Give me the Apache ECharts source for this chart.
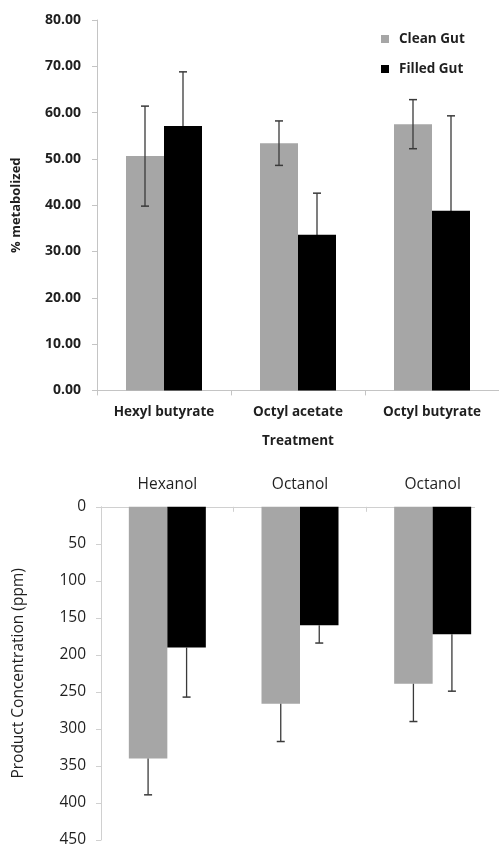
<!DOCTYPE html>
<html>
<head>
<meta charset="utf-8">
<script src="https://cdn.jsdelivr.net/npm/echarts@6/dist/echarts.min.js"></script>
<style>
html,body{margin:0;padding:0;background:#fff;}
#chart{width:499px;height:848px;}
</style>
</head>
<body>
<div id="chart"></div>
<script>
// ---- data ----
const topCategories = ['Hexyl butyrate', 'Octyl acetate', 'Octyl butyrate'];
const topClean = [50.6, 53.4, 57.5];
const topCleanErr = [10.8, 4.8, 5.3];
const topFilled = [57.1, 33.6, 38.8];
const topFilledErr = [11.7, 9.0, 20.5];
const topTicks = { min: 0, max: 80, interval: 10 };

const botCategories = ['Hexanol', 'Octanol', 'Octanol'];
const botClean = [340, 266, 239];
const botCleanErr = [49, 51, 51];
const botFilled = [190, 160, 172];
const botFilledErr = [67, 24, 77];
const botTicks = { min: 0, max: 450, interval: 50 };

const seriesNames = ['Clean Gut', 'Filled Gut'];

// ---- styles ----
const GRAY = '#a6a6a6';
const BLACK = '#000000';
const ERR = '#3a3a3a';
const TXT = '#1f1f1f';
const FONT = '"Open Sans", "Liberation Sans", sans-serif';
const BARW_TOP = 38;
const BARW_BOT = 38.5;

function errData(vals, errs) {
  return vals.map((v, i) => [i, v, errs[i]]);
}
function errRenderer(offset, dir) {
  return function (params, api) {
    const i = api.value(0), v = api.value(1), e = api.value(2);
    const p0 = api.coord([i, v]);
    const pHi = api.coord([i, v + e]);
    const pLo = api.coord([i, v - e]);
    const x = p0[0] + offset;
    const cap = 4;
    const children = [];
    const yA = pHi[1];
    const yB = dir === 'both' ? pLo[1] : p0[1];
    children.push({ type: 'line', shape: { x1: x, y1: yA, x2: x, y2: yB }, style: { stroke: ERR, lineWidth: 1.3 } });
    children.push({ type: 'line', shape: { x1: x - cap, y1: yA, x2: x + cap, y2: yA }, style: { stroke: ERR, lineWidth: 1.5 } });
    if (dir === 'both') {
      children.push({ type: 'line', shape: { x1: x - cap, y1: yB, x2: x + cap, y2: yB }, style: { stroke: ERR, lineWidth: 1.5 } });
    }
    return { type: 'group', children: children };
  };
}

const chart = echarts.init(document.getElementById('chart'), null, { renderer: 'canvas' });

const option = {
  animation: false,
  backgroundColor: '#ffffff',
  legend: {
    data: seriesNames,
    orient: 'vertical',
    left: 376,
    top: 26,
    itemWidth: 8,
    itemHeight: 8,
    itemGap: 14,
    icon: 'rect',
    textStyle: { fontFamily: FONT, fontWeight: 'bold', fontSize: 13.5, color: TXT, lineHeight: 16, padding: [0, 0, 0, 5] }
  },
  grid: [
    { left: 97, top: 20, width: 404, height: 370.4, containLabel: false },
    { left: 101, top: 506.8, width: 412, height: 333.2, containLabel: false }
  ],
  xAxis: [
    {
      gridIndex: 0, type: 'category', data: topCategories,
      name: 'Treatment', nameLocation: 'middle', nameGap: 44,
      nameTextStyle: { fontFamily: FONT, fontWeight: 'bold', fontSize: 13.5, color: TXT },
      axisLine: { lineStyle: { color: '#c4c4c4', width: 1 } },
      axisTick: { show: true, length: 5, lineStyle: { color: '#c4c4c4' } },
      axisLabel: { fontFamily: FONT, fontWeight: 'bold', fontSize: 13.5, color: TXT, margin: 15 }
    },
    {
      gridIndex: 1, type: 'category', data: botCategories, position: 'top',
      axisLine: { lineStyle: { color: '#d0d0d0', width: 1 } },
      axisTick: { show: true, inside: true, length: 5, lineStyle: { color: '#d0d0d0' } },
      axisLabel: { fontFamily: FONT, fontSize: 15.5, color: TXT, margin: 14 }
    }
  ],
  yAxis: [
    {
      gridIndex: 0, type: 'value', min: topTicks.min, max: topTicks.max, interval: topTicks.interval,
      name: '% metabolized', nameLocation: 'middle', nameGap: 74,
      nameTextStyle: { fontFamily: FONT, fontWeight: 'bold', fontSize: 13, color: TXT },
      splitLine: { show: false },
      axisLine: { show: true, lineStyle: { color: '#c4c4c4', width: 1 } },
      axisTick: { show: true, length: 5, lineStyle: { color: '#c4c4c4' } },
      axisLabel: { fontFamily: FONT, fontWeight: 'bold', fontSize: 14, color: TXT, margin: 16,
        formatter: v => v.toFixed(2) }
    },
    {
      gridIndex: 1, type: 'value', inverse: true, min: botTicks.min, max: botTicks.max, interval: botTicks.interval,
      name: 'Product Concentration (ppm)', nameLocation: 'middle', nameGap: 74,
      nameTextStyle: { fontFamily: FONT, fontSize: 15.5, color: TXT },
      splitLine: { show: false },
      axisLine: { show: true, lineStyle: { color: '#d0d0d0', width: 1 } },
      axisTick: { show: true, length: 5, lineStyle: { color: '#d0d0d0' } },
      axisLabel: { fontFamily: FONT, fontSize: 15.5, color: TXT, margin: 15 }
    }
  ],
  series: [
    { name: 'Clean Gut', type: 'bar', xAxisIndex: 0, yAxisIndex: 0, data: topClean, barWidth: BARW_TOP, barGap: '0%',
      itemStyle: { color: GRAY }, z: 2 },
    { name: 'Filled Gut', type: 'bar', xAxisIndex: 0, yAxisIndex: 0, data: topFilled, barWidth: BARW_TOP, barGap: '0%',
      itemStyle: { color: BLACK }, z: 2 },
    { name: 'Clean Gut', type: 'bar', xAxisIndex: 1, yAxisIndex: 1, data: botClean, barWidth: BARW_BOT, barGap: '0%',
      itemStyle: { color: GRAY }, z: 2 },
    { name: 'Filled Gut', type: 'bar', xAxisIndex: 1, yAxisIndex: 1, data: botFilled, barWidth: BARW_BOT, barGap: '0%',
      itemStyle: { color: BLACK }, z: 2 },
    { type: 'custom', xAxisIndex: 0, yAxisIndex: 0, data: errData(topClean, topCleanErr),
      renderItem: errRenderer(-BARW_TOP / 2, 'both'), z: 5, silent: true },
    { type: 'custom', xAxisIndex: 0, yAxisIndex: 0, data: errData(topFilled, topFilledErr),
      renderItem: errRenderer(BARW_TOP / 2, 'both'), z: 1, silent: true },
    { type: 'custom', xAxisIndex: 1, yAxisIndex: 1, data: errData(botClean, botCleanErr),
      renderItem: errRenderer(-BARW_BOT / 2, 'plus'), z: 5, silent: true },
    { type: 'custom', xAxisIndex: 1, yAxisIndex: 1, data: errData(botFilled, botFilledErr),
      renderItem: errRenderer(BARW_BOT / 2, 'plus'), z: 5, silent: true }
  ],
  graphic: [
    { type: 'rect', left: 475, top: 495, shape: { width: 30, height: 360 }, style: { fill: '#ffffff' }, z: 100, silent: true }
  ]
};
chart.setOption(option);
</script>
</body>
</html>
